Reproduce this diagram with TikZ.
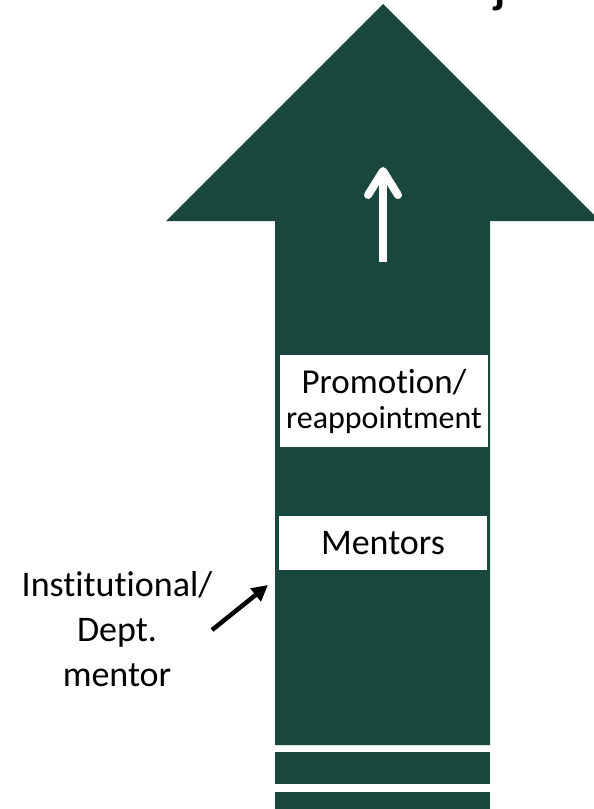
\documentclass[tikz,border=0pt]{standalone}
\usepackage{fontspec}
\setmainfont{Carlito}[Ligatures=NoCommon]
\usetikzlibrary{arrows.meta}
\definecolor{pinegreen}{RGB}{26,71,61}
\tikzset{
  labelbox/.style={fill=white, inner sep=0pt, align=center, minimum width=208pt},
  side label/.style={align=center, font=\fontsize{36}{45}\selectfont}
}
\begin{document}
\begin{tikzpicture}[x=1pt,y=-1pt]
  \useasboundingbox (0,0) rectangle (594,809);
  \clip (0,0) rectangle (594,809);
  % heading, only its lower part is on the page
  \node[anchor=base, font=\fontsize{44}{44}\selectfont\bfseries] (title) at (500,3) {j};
  % big arrow: head and shaft
  \fill[pinegreen] (383,4) -- (600,221) -- (490,221) -- (490,745) -- (275,745) -- (275,221) -- (166,221) -- cycle;
  % rungs under the shaft
  \fill[pinegreen] (275,752) rectangle (490,784);
  \fill[pinegreen] (275,792) rectangle (490,812);
  % small white arrow in the head
  \coordinate (up tail) at (383,262);
  \coordinate (up tip) at (383,167);
  \draw[white, line width=8pt, -{Straight Barb[round, length=24pt, width=30pt]}] (up tail) -- (up tip);
  % boxes on the shaft
  \node[labelbox, minimum height=92pt, font=\fontsize{35}{35}\selectfont] (promo) at (384,401)
    {Promotion/\\{\fontsize{32}{35}\selectfont reappointment}};
  \node[labelbox, minimum height=54pt, font=\fontsize{36}{36}\selectfont] (mentors) at (383,543) {Mentors};
  % side note and its pointer
  \node[side label] (inst) at (117,629) {Institutional/\\Dept.\\mentor};
  \coordinate (pointer tail) at (212,630);
  \coordinate (pointer tip) at (268,585);
  \draw[line width=4.5pt, -{Triangle[length=16pt, width=16pt]}] (pointer tail) -- (pointer tip);
\end{tikzpicture}
\end{document}
